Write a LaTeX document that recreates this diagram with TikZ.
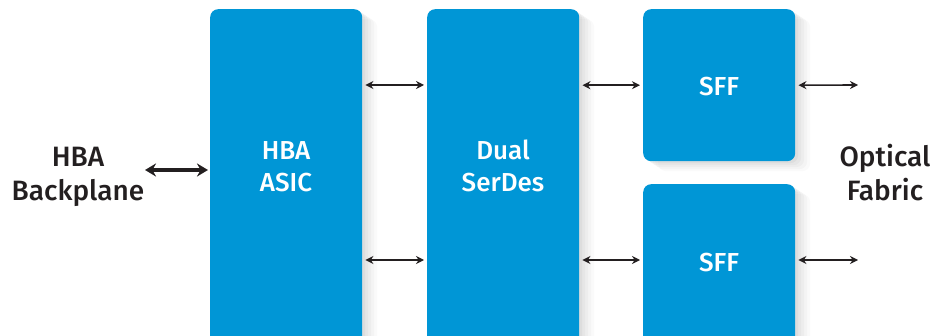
\documentclass[tikz,border=0pt]{standalone}
\usepackage{fontspec}
\setmainfont{Fira Sans}[BoldFont={Fira Sans Medium}]
\usetikzlibrary{arrows.meta,positioning,shadows}
\definecolor{hbblue}{RGB}{0,150,214}
\definecolor{hbink}{RGB}{35,31,32}

\tikzset{
  blk/.style={fill=hbblue, rounded corners=8pt, minimum width=152pt, inner sep=0pt,
    drop shadow={opacity=0.08, shadow xshift=3pt, shadow yshift=-2pt},
    drop shadow={opacity=0.07, shadow xshift=6pt, shadow yshift=-4pt},
    drop shadow={opacity=0.06, shadow xshift=9pt, shadow yshift=-6pt},
    drop shadow={opacity=0.05, shadow xshift=12pt, shadow yshift=-8pt},
    drop shadow={opacity=0.04, shadow xshift=15pt, shadow yshift=-10pt}},
  blktext/.style={text=white, font=\bfseries\fontsize{26}{32}\selectfont, align=center, anchor=base},
  sidetext/.style={text=hbink, font=\bfseries\fontsize{28}{34}\selectfont, align=center, anchor=base},
  link/.style={hbink, line width=1.6pt, {Stealth[length=8pt,width=8pt]}-{Stealth[length=8pt,width=8pt]}},
  biglink/.style={hbink, line width=4pt, {Stealth[length=11pt,width=13pt]}-{Stealth[length=11pt,width=13pt]}}
}

\begin{document}
\begin{tikzpicture}[x=1pt,y=1pt]
\useasboundingbox (0,0) rectangle (937,335);
\clip (0,0) rectangle (937,335);
% blocks
\node[blk, minimum height=346pt, anchor=north west] (asic) at (210,326) {};
\node[blk, minimum height=346pt, anchor=north west] (serdes) at (427,326) {};
\node[blk, minimum height=152pt, anchor=north west] (sffa) at (643,326) {};
\node[blk, minimum height=170pt, anchor=north west] (sffb) at (643,151) {};
% block labels
\node[blktext] (asict) at (286,143) {HBA\\ASIC};
\node[blktext] (serdest) at (503,143) {Dual\\SerDes};
\node[blktext] (sffat) at (719,239) {SFF};
\node[blktext] (sffbt) at (719,64) {SFF};
% side labels
\node[sidetext] (backplane) at (78,134) {HBA\\Backplane};
\node[sidetext] (fabric) at (885,134) {Optical\\Fabric};
% connectors
\coordinate (outa) at (858,250);
\coordinate (outb) at (858,75);
\draw[link] ([xshift=3pt]asic.east |- 0,250) -- ([xshift=-3pt]serdes.west |- 0,250);
\draw[link] ([xshift=3pt]asic.east |- 0,75) -- ([xshift=-3pt]serdes.west |- 0,75);
\draw[link] ([xshift=3pt]serdes.east |- sffa) -- ([xshift=-3pt]sffa.west);
\draw[link] ([xshift=3pt]serdes.east |- 0,75) -- ([xshift=-3pt]sffb.west |- 0,75);
\draw[link] ([xshift=3pt]sffa.east) -- (outa);
\draw[link] ([xshift=3pt]sffb.east |- outb) -- (outb);
\draw[biglink] (145,165) -- ([xshift=-2pt]asic.west |- 0,165);
\end{tikzpicture}
\end{document}
